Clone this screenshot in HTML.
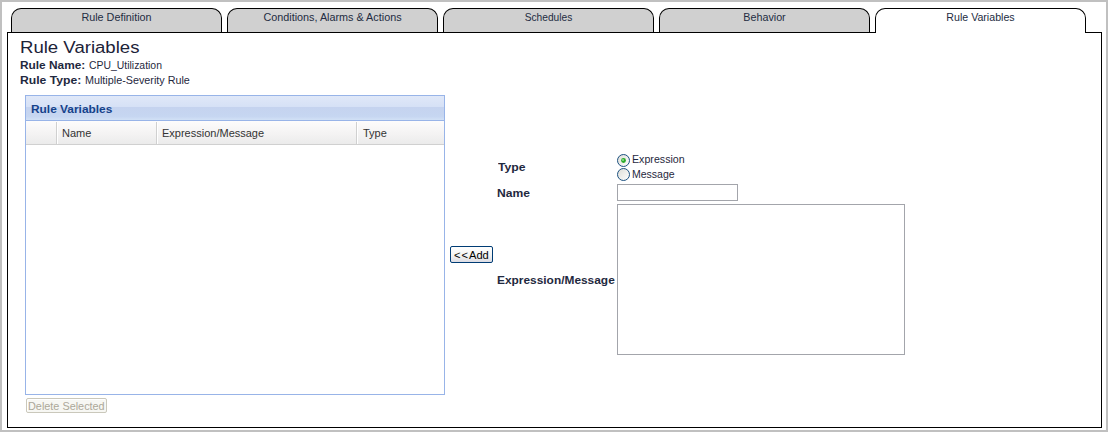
<!DOCTYPE html>
<html><head><meta charset="utf-8">
<style>
*{box-sizing:border-box;margin:0;padding:0}
html,body{width:1108px;height:432px;overflow:hidden;background:#fff}
body{position:relative;font-family:"Liberation Sans",sans-serif;font-size:11px;color:#1f2940}
.a{position:absolute;white-space:nowrap;line-height:13px;transform-origin:0 0}
#frame{position:absolute;left:0;top:0;width:1108px;height:432px;border:2px solid #c0c0c0}
#panel{position:absolute;left:7px;top:32px;width:1095px;height:396px;border:1px solid #000;background:#fff}
.tab{position:absolute;top:8px;width:211px;height:24px;border:1px solid #000;border-bottom:none;border-radius:10px 10px 0 0;background:#d0d0d0}
.tab.on{height:25px;background:#fff;z-index:2}
.tl{position:absolute;left:0;right:0;text-align:center;line-height:13px;top:2px;color:#232c42;transform-origin:50% 0}
.b{font-weight:bold}
#grid{position:absolute;left:25px;top:95px;width:420px;height:300px;border:1px solid #98b4e8;background:#fff}
#ghd{position:absolute;left:0;top:0;width:418px;height:25px;border-bottom:1px solid #98b4e8;background:linear-gradient(#e0e8f8 0,#d6e1f6 44%,#c5d3ef 46%,#c6d6f1 85%,#d2e1f6 100%)}
#chd{position:absolute;left:0;top:25px;width:418px;height:24px;border-bottom:1px solid #d0d0d0;background:linear-gradient(#fdfcfc,#f3f2f2 60%,#ebebeb)}
.sep{position:absolute;top:1px;width:2px;height:22px;border-left:1px solid #d0d0d0;border-right:1px solid #fff}
.btn{position:absolute}
</style></head><body>
<div id="frame"></div>
<div id="panel"></div>
<div class="tab" style="left:11px"><div class="tl" style="transform:scaleX(.98)">Rule Definition</div></div>
<div class="tab" style="left:227px"><div class="tl" style="transform:scaleX(.982)">Conditions, Alarms &amp; Actions</div></div>
<div class="tab" style="left:443px"><div class="tl" style="transform:scaleX(.927)">Schedules</div></div>
<div class="tab" style="left:659px"><div class="tl" style="transform:scaleX(.976)">Behavior</div></div>
<div class="tab on" style="left:875px"><div class="tl" style="transform:scaleX(.965)">Rule Variables</div></div>

<div class="a" id="h1" style="left:20px;top:39px;font-size:16px;line-height:18px;color:#1c2238;transform:scaleX(1.161)">Rule Variables</div>
<div class="a b" style="left:20px;top:59px;transform:scaleX(1.078)">Rule Name:</div>
<div class="a" style="left:89px;top:59px;transform:scaleX(.947)">CPU_Utilization</div>
<div class="a b" style="left:20px;top:74px;transform:scaleX(1.106)">Rule Type:</div>
<div class="a" style="left:85px;top:74px;transform:scaleX(.98)">Multiple-Severity Rule</div>

<div id="grid">
  <div id="ghd"><div class="a b" style="left:5px;top:7px;color:#15428b;transform:scaleX(1.081)">Rule Variables</div></div>
  <div id="chd">
    <div class="sep" style="left:30px"></div>
    <div class="sep" style="left:130px"></div>
    <div class="sep" style="left:330px"></div>
    <div class="a" style="left:36px;top:6px;color:#333">Name</div>
    <div class="a" style="left:136px;top:6px;color:#333">Expression/Message</div>
    <div class="a" style="left:337px;top:6px;color:#333">Type</div>
  </div>
</div>

<div class="btn" style="left:26px;top:398px;width:81px;height:15px;border:1px solid #cac8bb;border-radius:2px;background:#f7f7f3;box-shadow:inset 1px 1px 0 #fff"></div>
<div class="a" style="left:28px;top:400px;color:#aca899;transform:scaleX(.987)">Delete Selected</div>

<div class="btn" style="left:450px;top:246px;width:43px;height:17px;border:1px solid #003c74;border-radius:2px;background:linear-gradient(#fff,#f4f4f2 55%,#dcdce4)"></div>
<div class="a" style="left:454px;top:249px;color:#000;transform:scaleX(1.01)">&lt;<span style="margin-left:1px">&lt;</span><span style="margin-left:1px">Add</span></div>

<div class="a b" style="left:498px;top:161px;transform:scaleX(1.11)">Type</div>
<div class="a b" style="left:497px;top:187px;transform:scaleX(1.1)">Name</div>
<div class="a b" style="left:497px;top:274px;transform:scaleX(1.082)">Expression/Message</div>

<svg style="position:absolute;left:617px;top:154px" width="13" height="13" viewBox="0 0 13 13"><defs><linearGradient id="rg" x1="0" y1="0" x2="1" y2="1"><stop offset="0" stop-color="#dcdcd6"/><stop offset="1" stop-color="#fff"/></linearGradient></defs><circle cx="6.5" cy="6.5" r="6" fill="url(#rg)" stroke="#1c5180" stroke-width="1"/><circle cx="6.5" cy="6.5" r="2.4" fill="#2aaa2a"/><circle cx="6" cy="6" r="1" fill="#8fe08f"/></svg>
<svg style="position:absolute;left:617px;top:168px" width="13" height="13" viewBox="0 0 13 13"><circle cx="6.5" cy="6.5" r="6" fill="url(#rg)" stroke="#1c5180" stroke-width="1"/></svg>
<div class="a" style="left:632px;top:153px;transform:scaleX(.968)">Expression</div>
<div class="a" style="left:632px;top:168px;transform:scaleX(.956)">Message</div>

<div style="position:absolute;left:617px;top:184px;width:121px;height:17px;border:1px solid #a3a5ab;background:#fff"></div>
<div style="position:absolute;left:617px;top:204px;width:288px;height:151px;border:1px solid #a3a5ab;background:#fff"></div>
</body></html>
